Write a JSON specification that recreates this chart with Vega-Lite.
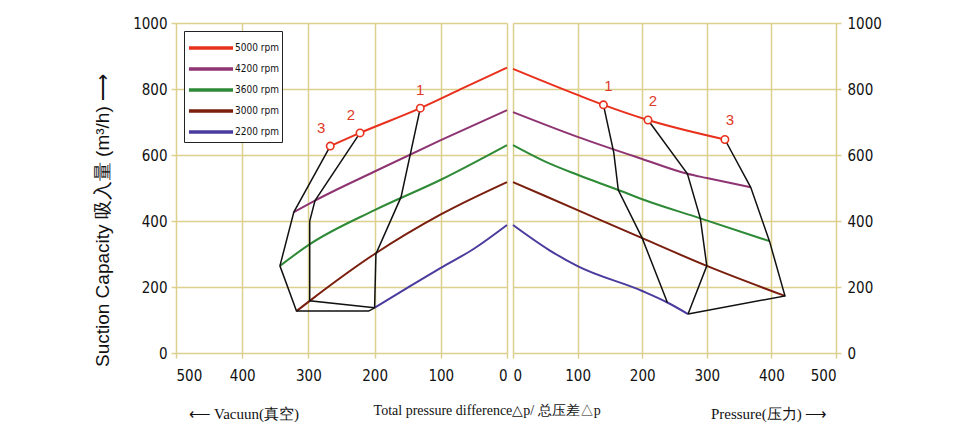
{
  "$schema": "https://vega.github.io/schema/vega-lite/v6.json",
  "background": "white",
  "padding": {"left": 93, "top": 16, "right": 5, "bottom": 5},
  "spacing": 6,
  "bounds": "flush",
  "config": {
    "view": {"stroke": null},
    "axis": {
      "gridColor": "#dcd08e", "gridWidth": 1.5, "gridOpacity": 1,
      "domain": false, "tickColor": "#dcd08e", "tickWidth": 1.5, "tickSize": 5,
      "labelFont": "Liberation Sans Narrow, Arial Narrow, DejaVu Sans Condensed, sans-serif",
      "labelFontSize": 15, "labelColor": "#111", "format": "d",
      "titleFont": "Liberation Serif", "titleFontSize": 15, "titleFontWeight": "normal", "titleColor": "#111"
    },
    "legend": {
      "symbolType": "M-1.8,0H1.8", "symbolSize": 600, "symbolStrokeWidth": 3.5, "symbolOffset": 10,
      "labelFont": "Liberation Sans Narrow, Arial Narrow, DejaVu Sans Condensed, sans-serif",
      "labelFontSize": 10, "labelColor": "#111", "padding": 3, "rowPadding": 0,
      "strokeColor": "#222", "fillColor": "white", "labelOffset": 10
    }
  },
  "title": {
    "text": "Total pressure difference△p/ 总压差△p",
    "orient": "bottom", "anchor": "middle", "offset": -17,
    "font": "Liberation Serif", "fontSize": 14, "fontWeight": "normal", "color": "#111"
  },
  "resolve": {"scale": {"color": "independent", "x": "independent"}},
  "datasets": {
    "curves": [
      {"s": "L", "rpm": "5000 rpm", "p": 0, "q": 865},
      {"s": "L", "rpm": "5000 rpm", "p": 65, "q": 804},
      {"s": "L", "rpm": "5000 rpm", "p": 131, "q": 742},
      {"s": "L", "rpm": "5000 rpm", "p": 222, "q": 667},
      {"s": "L", "rpm": "5000 rpm", "p": 267, "q": 627},
      {"s": "L", "rpm": "4200 rpm", "p": 0, "q": 736},
      {"s": "L", "rpm": "4200 rpm", "p": 100, "q": 645},
      {"s": "L", "rpm": "4200 rpm", "p": 200, "q": 550},
      {"s": "L", "rpm": "4200 rpm", "p": 290, "q": 462},
      {"s": "L", "rpm": "4200 rpm", "p": 322, "q": 427},
      {"s": "L", "rpm": "3600 rpm", "p": 0, "q": 630},
      {"s": "L", "rpm": "3600 rpm", "p": 100, "q": 525},
      {"s": "L", "rpm": "3600 rpm", "p": 200, "q": 433},
      {"s": "L", "rpm": "3600 rpm", "p": 300, "q": 327},
      {"s": "L", "rpm": "3600 rpm", "p": 343, "q": 264},
      {"s": "L", "rpm": "3000 rpm", "p": 0, "q": 518},
      {"s": "L", "rpm": "3000 rpm", "p": 100, "q": 420},
      {"s": "L", "rpm": "3000 rpm", "p": 200, "q": 300},
      {"s": "L", "rpm": "3000 rpm", "p": 298, "q": 158},
      {"s": "L", "rpm": "3000 rpm", "p": 318, "q": 127},
      {"s": "L", "rpm": "2200 rpm", "p": 0, "q": 388},
      {"s": "L", "rpm": "2200 rpm", "p": 50, "q": 316},
      {"s": "L", "rpm": "2200 rpm", "p": 100, "q": 258},
      {"s": "L", "rpm": "2200 rpm", "p": 150, "q": 198},
      {"s": "L", "rpm": "2200 rpm", "p": 200, "q": 137},
      {"s": "R", "rpm": "5000 rpm", "p": 0, "q": 861},
      {"s": "R", "rpm": "5000 rpm", "p": 100, "q": 782},
      {"s": "R", "rpm": "5000 rpm", "p": 140, "q": 752},
      {"s": "R", "rpm": "5000 rpm", "p": 209, "q": 706},
      {"s": "R", "rpm": "5000 rpm", "p": 328, "q": 647},
      {"s": "R", "rpm": "4200 rpm", "p": 0, "q": 730},
      {"s": "R", "rpm": "4200 rpm", "p": 100, "q": 655},
      {"s": "R", "rpm": "4200 rpm", "p": 200, "q": 588},
      {"s": "R", "rpm": "4200 rpm", "p": 270, "q": 543},
      {"s": "R", "rpm": "4200 rpm", "p": 300, "q": 530},
      {"s": "R", "rpm": "4200 rpm", "p": 368, "q": 502},
      {"s": "R", "rpm": "3600 rpm", "p": 0, "q": 630},
      {"s": "R", "rpm": "3600 rpm", "p": 50, "q": 580},
      {"s": "R", "rpm": "3600 rpm", "p": 100, "q": 540},
      {"s": "R", "rpm": "3600 rpm", "p": 163, "q": 494},
      {"s": "R", "rpm": "3600 rpm", "p": 200, "q": 466},
      {"s": "R", "rpm": "3600 rpm", "p": 290, "q": 408},
      {"s": "R", "rpm": "3600 rpm", "p": 397, "q": 339},
      {"s": "R", "rpm": "3000 rpm", "p": 0, "q": 518},
      {"s": "R", "rpm": "3000 rpm", "p": 100, "q": 433},
      {"s": "R", "rpm": "3000 rpm", "p": 200, "q": 348},
      {"s": "R", "rpm": "3000 rpm", "p": 300, "q": 264},
      {"s": "R", "rpm": "3000 rpm", "p": 421, "q": 173},
      {"s": "R", "rpm": "2200 rpm", "p": 0, "q": 388},
      {"s": "R", "rpm": "2200 rpm", "p": 56, "q": 312},
      {"s": "R", "rpm": "2200 rpm", "p": 100, "q": 263},
      {"s": "R", "rpm": "2200 rpm", "p": 200, "q": 188},
      {"s": "R", "rpm": "2200 rpm", "p": 239, "q": 153},
      {"s": "R", "rpm": "2200 rpm", "p": 271, "q": 118}
    ],
    "limits": [
      {"s": "L", "g": "1", "o": 1, "p": 131, "q": 742},
      {"s": "L", "g": "1", "o": 2, "p": 160, "q": 473},
      {"s": "L", "g": "1", "o": 3, "p": 198, "q": 300},
      {"s": "L", "g": "1", "o": 4, "p": 200, "q": 137},
      {"s": "L", "g": "2", "o": 1, "p": 222, "q": 667},
      {"s": "L", "g": "2", "o": 2, "p": 290, "q": 462},
      {"s": "L", "g": "2", "o": 3, "p": 298, "q": 400},
      {"s": "L", "g": "2", "o": 4, "p": 298, "q": 158},
      {"s": "L", "g": "2", "o": 5, "p": 200, "q": 137},
      {"s": "L", "g": "3", "o": 1, "p": 267, "q": 627},
      {"s": "L", "g": "3", "o": 2, "p": 322, "q": 427},
      {"s": "L", "g": "3", "o": 3, "p": 343, "q": 264},
      {"s": "L", "g": "3", "o": 4, "p": 318, "q": 127},
      {"s": "L", "g": "3", "o": 5, "p": 209, "q": 127},
      {"s": "L", "g": "3", "o": 6, "p": 200, "q": 137},
      {"s": "R", "g": "1", "o": 1, "p": 140, "q": 752},
      {"s": "R", "g": "1", "o": 2, "p": 156, "q": 607},
      {"s": "R", "g": "1", "o": 3, "p": 163, "q": 494},
      {"s": "R", "g": "1", "o": 4, "p": 200, "q": 348},
      {"s": "R", "g": "1", "o": 5, "p": 239, "q": 153},
      {"s": "R", "g": "2", "o": 1, "p": 209, "q": 706},
      {"s": "R", "g": "2", "o": 2, "p": 270, "q": 543},
      {"s": "R", "g": "2", "o": 3, "p": 290, "q": 408},
      {"s": "R", "g": "2", "o": 4, "p": 300, "q": 264},
      {"s": "R", "g": "2", "o": 5, "p": 271, "q": 118},
      {"s": "R", "g": "3", "o": 1, "p": 328, "q": 647},
      {"s": "R", "g": "3", "o": 2, "p": 368, "q": 502},
      {"s": "R", "g": "3", "o": 3, "p": 397, "q": 339},
      {"s": "R", "g": "3", "o": 4, "p": 421, "q": 173},
      {"s": "R", "g": "3", "o": 5, "p": 271, "q": 118}
    ],
    "points": [
      {"s": "L", "n": "1", "p": 131, "q": 742},
      {"s": "L", "n": "2", "p": 222, "q": 667},
      {"s": "L", "n": "3", "p": 267, "q": 627},
      {"s": "R", "n": "1", "p": 140, "q": 752},
      {"s": "R", "n": "2", "p": 209, "q": 706},
      {"s": "R", "n": "3", "p": 328, "q": 647}
    ]
  },
  "hconcat": [
    {
      "width": 331,
      "height": 330,
      "encoding": {
        "x": {
          "field": "p", "type": "quantitative",
          "scale": {"domain": [0, 500], "reverse": true, "nice": false},
          "axis": {
            "values": [0, 100, 200, 300, 400, 500], "labelPadding": 10,
            "title": "⟵   Vacuun(真空)", "titleX": 12, "titleY": 60,
            "titleAlign": "left", "titleBaseline": "middle"
          }
        },
        "y": {
          "field": "q", "type": "quantitative",
          "scale": {"domain": [0, 1000], "nice": false},
          "axis": {
            "values": [0, 200, 400, 600, 800, 1000], "labelPadding": 4,
            "title": "Suction Capacity 吸入量 (m³/h)   ⟶",
            "titleFont": "Liberation Sans", "titleFontSize": 19,
            "titleX": -64, "titleY": 197, "titleAlign": "center", "titleBaseline": "bottom", "titleAngle": -90
          }
        }
      },
      "layer": [
        {
          "data": {"name": "curves"},
          "transform": [{"filter": "datum.s == 'L'"}],
          "mark": {"type": "line", "strokeWidth": 2, "interpolate": "monotone"},
          "encoding": {
            "color": {
              "field": "rpm", "type": "nominal",
              "scale": {
                "domain": ["5000 rpm", "4200 rpm", "3600 rpm", "3000 rpm", "2200 rpm"],
                "range": ["#e8301c", "#8e3473", "#2e8a36", "#7a1e0e", "#4a3c9e"]
              },
              "legend": {"orient": "top-left", "offset": 8, "title": null}
            }
          }
        },
        {
          "data": {"name": "limits"},
          "transform": [{"filter": "datum.s == 'L'"}],
          "mark": {"type": "line", "color": "#111", "strokeWidth": 1.5},
          "encoding": {"detail": {"field": "g"}, "order": {"field": "o", "type": "quantitative"}}
        },
        {
          "data": {"name": "points"},
          "transform": [{"filter": "datum.s == 'L'"}],
          "mark": {"type": "point", "shape": "circle", "size": 55, "filled": true, "fill": "white", "stroke": "#e8301c", "strokeWidth": 1.6, "opacity": 1}
        },
        {
          "data": {"name": "points"},
          "transform": [{"filter": "datum.s == 'L' && datum.n == '1'"}],
          "mark": {"type": "text", "color": "#e03a2a", "fontSize": 15, "font": "Liberation Sans", "dx": 0, "dy": -18},
          "encoding": {"text": {"field": "n"}}
        },
        {
          "data": {"name": "points"},
          "transform": [{"filter": "datum.s == 'L' && datum.n != '1'"}],
          "mark": {"type": "text", "color": "#e03a2a", "fontSize": 15, "font": "Liberation Sans", "dx": -9, "dy": -18},
          "encoding": {"text": {"field": "n"}}
        }
      ]
    },
    {
      "width": 323,
      "height": 330,
      "encoding": {
        "x": {
          "field": "p", "type": "quantitative",
          "scale": {"domain": [0, 500], "nice": false},
          "axis": {
            "values": [0, 100, 200, 300, 400, 500], "labelPadding": 10,
            "title": "Pressure(压力)  ⟶", "titleX": 314, "titleY": 60,
            "titleAlign": "right", "titleBaseline": "middle"
          }
        },
        "y": {
          "field": "q", "type": "quantitative",
          "scale": {"domain": [0, 1000], "nice": false},
          "axis": {"orient": "right", "values": [0, 200, 400, 600, 800, 1000], "labelPadding": 6, "title": null}
        }
      },
      "layer": [
        {
          "data": {"name": "curves"},
          "transform": [{"filter": "datum.s == 'R'"}],
          "mark": {"type": "line", "strokeWidth": 2, "interpolate": "monotone"},
          "encoding": {
            "color": {
              "field": "rpm", "type": "nominal",
              "scale": {
                "domain": ["5000 rpm", "4200 rpm", "3600 rpm", "3000 rpm", "2200 rpm"],
                "range": ["#e8301c", "#8e3473", "#2e8a36", "#7a1e0e", "#4a3c9e"]
              },
              "legend": null
            }
          }
        },
        {
          "data": {"name": "limits"},
          "transform": [{"filter": "datum.s == 'R'"}],
          "mark": {"type": "line", "color": "#111", "strokeWidth": 1.5},
          "encoding": {"detail": {"field": "g"}, "order": {"field": "o", "type": "quantitative"}}
        },
        {
          "data": {"name": "points"},
          "transform": [{"filter": "datum.s == 'R'"}],
          "mark": {"type": "point", "shape": "circle", "size": 55, "filled": true, "fill": "white", "stroke": "#e8301c", "strokeWidth": 1.6, "opacity": 1}
        },
        {
          "data": {"name": "points"},
          "transform": [{"filter": "datum.s == 'R'"}],
          "mark": {"type": "text", "color": "#e03a2a", "fontSize": 15, "font": "Liberation Sans", "dx": 5, "dy": -19},
          "encoding": {"text": {"field": "n"}}
        }
      ]
    }
  ]
}
